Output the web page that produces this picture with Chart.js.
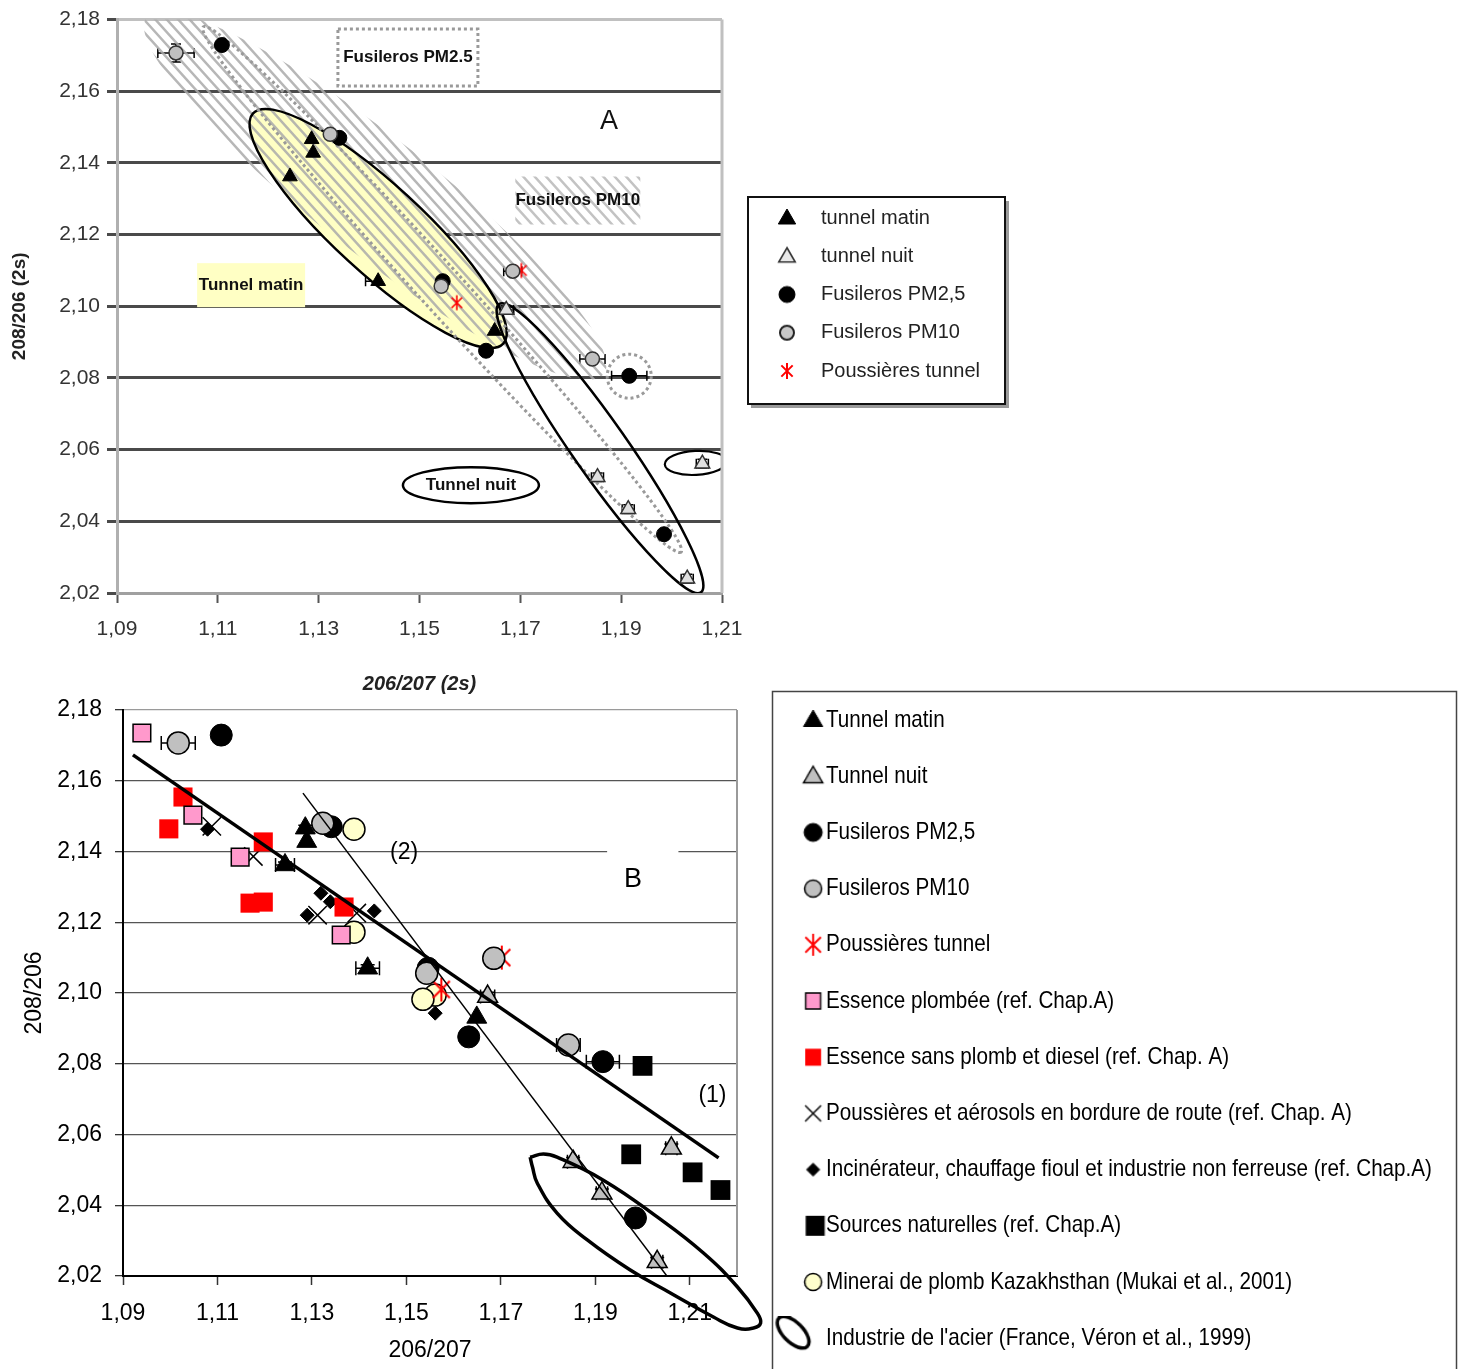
<!DOCTYPE html>
<html><head><meta charset="utf-8">
<script src="https://cdn.jsdelivr.net/npm/chart.js@4.4.1/dist/chart.umd.min.js"></script>
<style>
html,body{margin:0;padding:0;background:#fff;overflow:hidden;width:1460px;height:1369px;}
#ca{position:absolute;left:0;top:0;}
#cb{position:absolute;left:0;top:640px;}
</style></head><body>
<canvas id="ca" width="1460" height="700"></canvas>
<canvas id="cb" width="1460" height="729"></canvas>
<script>
// ================= DATA =================
const xTicksA = [1.09, 1.11, 1.13, 1.15, 1.17, 1.19, 1.21];
const xTicksB = [1.09, 1.11, 1.13, 1.15, 1.17, 1.19, 1.21];
const yTicks  = [2.02, 2.04, 2.06, 2.08, 2.10, 2.12, 2.14, 2.16, 2.18];

const tunnelMatinX = [1.1286, 1.1289, 1.1243, 1.1418, 1.1649];
const tunnelMatinY = [2.1466, 2.1428, 2.1362, 2.1070, 2.0931];
const tunnelMatinErrX = [0, 0, 0.0020, 0.0025, 0];
const tunnelMatinErrY = [0.0008, 0, 0.0008, 0.0010, 0];

const tunnelNuitX = [1.1672, 1.1853, 1.1914, 1.2031, 1.2061];
const tunnelNuitY = [2.0990, 2.0523, 2.0434, 2.0240, 2.0561];
const tunnelNuitErrX = [0.0015, 0.0012, 0.0012, 0.0012, 0.0012];
const tunnelNuitErrY = [0.0012, 0.0012, 0.0012, 0.0012, 0.0012];

const pm25X = [1.1108, 1.1341, 1.1546, 1.1632, 1.1916, 1.1985];
const pm25Y = [2.1729, 2.1470, 2.1070, 2.0876, 2.0806, 2.0364];
const pm25ErrX = [0, 0, 0, 0, 0.0035, 0];
const pm25ErrY = [0, 0, 0, 0, 0, 0];

const pm10X = [1.1017, 1.1323, 1.1543, 1.1685, 1.1843];
const pm10Y = [2.1707, 2.1480, 2.1056, 2.1098, 2.0853];
const pm10ErrX = [0.0036, 0, 0, 0.0018, 0.0025];
const pm10ErrY = [0.0025, 0, 0, 0, 0];

const poussTunnelX = [1.1702, 1.1574];
const poussTunnelY = [2.1100, 2.1010];

const essPlombX = [1.0940, 1.1048, 1.1148, 1.1362];
const essPlombY = [2.1735, 2.1503, 2.1384, 2.1164];

const essSansX = [1.1027, 1.0997, 1.1197, 1.1169, 1.1197, 1.1368];
const essSansY = [2.1554, 2.1464, 2.1427, 2.1254, 2.1257, 2.1243];

const routeX = [1.1088, 1.1176, 1.1312, 1.1395];
const routeY = [2.1471, 2.1386, 2.1220, 2.1226];

const incinX = [1.1079, 1.1319, 1.1339, 1.1290, 1.1432, 1.1561];
const incinY = [2.1463, 2.1282, 2.1258, 2.1220, 2.1232, 2.0943];

const naturX = [1.2000, 1.1976, 1.2106, 1.2165];
const naturY = [2.0794, 2.0544, 2.0493, 2.0443];

const kazX = [1.1389, 1.1389, 1.1561, 1.1535];
const kazY = [2.1463, 2.1172, 2.0994, 2.0982];

// outline of the steel-industry field
const steelX = [1.1762, 1.1790, 1.1819, 1.1917, 1.2031, 1.2129, 1.2201, 1.2243, 1.2250, 1.2235, 1.2201, 1.2150, 1.2059, 1.1974, 1.1883, 1.1819, 1.1777, 1.1767];
const steelY = [2.0536, 2.0545, 2.0536, 2.0471, 2.0367, 2.0265, 2.0169, 2.0095, 2.0067, 2.0053, 2.0053, 2.0084, 2.0152, 2.0217, 2.0302, 2.0378, 2.0463, 2.0508];

const line1X = [1.0921, 1.2161];
const line1Y = [2.1673, 2.0534];
const line2X = [1.1281, 1.2055];
const line2Y = [2.1565, 2.0194];

const labelsTopLegend = ['tunnel matin', 'tunnel nuit', 'Fusileros PM2,5', 'Fusileros PM10', 'Poussières tunnel'];
const labelsB = ['Tunnel matin', 'Tunnel nuit', 'Fusileros PM2,5', 'Fusileros PM10', 'Poussières tunnel',
  'Essence plombée (ref. Chap.A)', 'Essence sans plomb et diesel (ref. Chap. A)',
  'Poussières et aérosols en bordure de route (ref. Chap. A)',
  'Incinérateur, chauffage fioul et industrie non ferreuse (ref. Chap.A)',
  'Sources naturelles (ref. Chap.A)', 'Minerai de plomb Kazakhsthan (Mukai et al., 2001)',
  "Industrie de l'acier (France, Véron et al., 1999)"];

// ================= STYLE / LAYOUT =================
const FA = "'Liberation Sans', Arial, sans-serif";
Chart.defaults.font.family = FA;
Chart.defaults.color = '#000';
const fmt = v => Number(v).toFixed(2).replace('.', ',');
const pts = (xs, ys) => xs.map((x, i) => ({x: x, y: ys[i]}));

// horizontal condensing factor for legend B (reference uses a narrow face)
const LEG_B_FONT = 24;
const kB = (() => {
  const m = document.createElement('canvas').getContext('2d');
  m.font = LEG_B_FONT + "px 'Liberation Sans'";
  return Math.min(1, 606 / m.measureText(labelsB[8]).width);
})();

function drawMark(g, style, x, y, r, fill, stroke, lw) {
  g.save(); g.beginPath();
  let closed = true; const s = r * Math.SQRT1_2;
  switch (style) {
    case 'circle': g.arc(x, y, r, 0, Math.PI * 2); break;
    case 'triangle': g.moveTo(x, y - r); g.lineTo(x + r * 0.866, y + r * 0.5); g.lineTo(x - r * 0.866, y + r * 0.5); g.closePath(); break;
    case 'rectRot': g.moveTo(x - r, y); g.lineTo(x, y - r); g.lineTo(x + r, y); g.lineTo(x, y + r); g.closePath(); break;
    case 'crossRot': closed = false; g.moveTo(x - s, y - s); g.lineTo(x + s, y + s); g.moveTo(x + s, y - s); g.lineTo(x - s, y + s); break;
    case 'asterisk': closed = false; g.moveTo(x - s, y - s); g.lineTo(x + s, y + s); g.moveTo(x + s, y - s); g.lineTo(x - s, y + s); g.moveTo(x, y - r); g.lineTo(x, y + r); break;
  }
  if (closed && fill) { g.fillStyle = fill; g.fill(); }
  if (stroke && lw > 0) { g.strokeStyle = stroke; g.lineWidth = lw; g.stroke(); }
  g.restore();
}
function drawBox(g, x, y, w, h, fill, stroke, lw) {
  g.save(); g.fillStyle = fill; g.fillRect(x - w / 2, y - h / 2, w, h);
  if (stroke) { g.strokeStyle = stroke; g.lineWidth = lw; g.strokeRect(x - w / 2, y - h / 2, w, h); }
  g.restore();
}
function img(w, h, fn) { const c = document.createElement('canvas'); c.width = w; c.height = h; fn(c.getContext('2d')); return c; }
function widen(src, k) { const c = document.createElement('canvas'); c.width = Math.round(src.width / k); c.height = src.height; c.getContext('2d').drawImage(src, 0, 0, c.width, c.height); return c; }

// point images
const astA = img(20, 20, g => drawMark(g, 'asterisk', 10, 10, 7.5, null, '#ff0000', 1.6));
const astB = img(30, 30, g => drawMark(g, 'asterisk', 15, 15, 12, null, '#ff0000', 2));

// legend images chart A (symbol left inside a 60px image)
const legA = [
  img(60, 24, g => drawMark(g, 'triangle', 16, 13, 10, '#000', '#000', 1)),
  img(60, 24, g => drawMark(g, 'triangle', 16, 13, 9.5, '#e8e8e8', '#333', 1.6)),
  img(60, 24, g => drawMark(g, 'circle', 16, 12, 8, '#000', '#000', 1)),
  img(60, 24, g => drawMark(g, 'circle', 16, 12, 7, '#c8c8c8', '#222', 2)),
  img(60, 24, g => drawMark(g, 'asterisk', 16, 12, 8, null, '#ff0000', 2))
];
// legend images chart B
const legB = [
  img(30, 30, g => drawMark(g, 'triangle', 15, 16, 11, '#000', '#000', 1)),
  img(30, 30, g => drawMark(g, 'triangle', 15, 16, 11, '#c0c0c0', '#000', 1.5)),
  img(30, 30, g => drawMark(g, 'circle', 15, 15, 9, '#000', '#000', 1)),
  img(30, 30, g => drawMark(g, 'circle', 15, 15, 8.5, '#c0c0c0', '#000', 1.5)),
  img(30, 30, g => drawMark(g, 'asterisk', 15, 15, 11, null, '#ff0000', 2)),
  img(30, 30, g => drawBox(g, 15, 15, 15, 16, '#ff99cc', '#000', 1.5)),
  img(30, 30, g => drawBox(g, 15, 15, 16, 17, '#ff0000')),
  img(30, 30, g => drawMark(g, 'crossRot', 15, 15, 11.3, null, '#000', 1.5)),
  img(30, 30, g => drawMark(g, 'rectRot', 15, 15, 6.5, '#000', '#000', 1)),
  img(30, 30, g => drawBox(g, 17, 15, 19, 20, '#000')),
  img(30, 30, g => drawMark(g, 'circle', 15, 15, 8.5, '#ffffcc', '#000', 1.5)),
  img(80, 44, g => { g.beginPath(); g.ellipse(20, 16, 20, 10, 45 * Math.PI / 180, 0, Math.PI * 2); g.lineWidth = 3.5; g.strokeStyle = '#000'; g.stroke(); })
].map(c => widen(c, kB));

// ================= PLUGINS =================
const errorBars = {
  id: 'errorBars',
  beforeDatasetsDraw(chart, args, opts) {
    const {ctx, scales: {x, y}} = chart;
    const cap = opts.cap || 6;
    ctx.save(); ctx.strokeStyle = '#000'; ctx.lineWidth = opts.lw || 1.5;
    chart.data.datasets.forEach(ds => {
      if (!ds.errX && !ds.errY) return;
      ds.data.forEach((p, i) => {
        const px = x.getPixelForValue(p.x), py = y.getPixelForValue(p.y);
        const ex = ds.errX ? ds.errX[i] : 0, ey = ds.errY ? ds.errY[i] : 0;
        ctx.beginPath();
        if (ex > 0) {
          const l = x.getPixelForValue(p.x - ex), r = x.getPixelForValue(p.x + ex);
          ctx.moveTo(l, py); ctx.lineTo(r, py);
          ctx.moveTo(l, py - cap); ctx.lineTo(l, py + cap); ctx.moveTo(r, py - cap); ctx.lineTo(r, py + cap);
        }
        if (ey > 0) {
          const t = y.getPixelForValue(p.y + ey), b = y.getPixelForValue(p.y - ey);
          ctx.moveTo(px, t); ctx.lineTo(px, b);
          ctx.moveTo(px - cap, t); ctx.lineTo(px + cap, t); ctx.moveTo(px - cap, b); ctx.lineTo(px + cap, b);
        }
        ctx.stroke();
      });
    });
    ctx.restore();
  }
};

function legendPlacer(id, width, left, top, sx, anchor) {
  return {
    id: id,
    beforeLayout(chart) {
      const lg = chart.legend;
      if (lg && !lg._wrapped) {
        const orig = lg.fit;
        lg.fit = function () { const mh = this.maxHeight; this.maxHeight = 5000; orig.call(this); this.maxHeight = mh; this.width = width; this.height = mh; };
        if (sx && sx !== 1) {
          const od = lg.draw;
          lg.draw = function (a) {
            const c = this.ctx; c.save(); c.translate(anchor, 0); c.scale(sx, 1); c.translate(-anchor, 0);
            if (typeof this._draw === 'function' && this.options.display) { this._draw(); } else { od.call(this, a); }
            c.restore();
          };
        }
        lg._wrapped = true;
      }
    },
    afterLayout(chart) {
      const lg = chart.legend;
      lg.left = left; lg.right = left + 2000; lg.top = top; lg.bottom = top + 5000;
    }
  };
}

// ---------- chart A annotations (data-anchored) ----------
const annoA = {
  hatchBand: {x: 1.1412, y: 2.1309, a: 290, b: 58, rot: 38},
  yellowEll: {x: 1.1418, y: 2.1217, a: 170, b: 44, rot: 42.6},
  nightEll: {x: 1.1858, y: 2.0604, a: 176, b: 27, rot: 55},
  smallEll: {x: 1.2048, y: 2.0563, a: 31, b: 12, rot: -3},
  dotLoop: {x: 1.1545, y: 2.1047, a: 355, b: 22, rot: 47.7},
  dotCircle: {x: 1.1916, y: 2.0805, r: 22}
};
const textA = [
  {text: 'Fusileros PM2.5', x: 1.1477, y: 2.1694, w: 140, h: 57, box: 'dotted'},
  {text: 'Fusileros PM10', x: 1.1814, y: 2.1295, w: 125, h: 48, box: 'hatch'},
  {text: 'Tunnel matin', x: 1.1166, y: 2.1059, w: 108, h: 44, box: 'yellow'},
  {text: 'Tunnel nuit', x: 1.1602, y: 2.0501, w: 136, h: 36, box: 'ellipse'},
  {text: 'A', x: 1.1876, y: 2.1516, box: 'none'}
];

function hatch(ctx, cx, cy, R, angDeg, spacing) {
  const th = angDeg * Math.PI / 180, dx = Math.cos(th), dy = Math.sin(th);
  ctx.beginPath();
  for (let k = -R; k <= R; k += spacing) {
    const ox = cx - dy * k, oy = cy + dx * k;
    ctx.moveTo(ox - dx * R, oy - dy * R); ctx.lineTo(ox + dx * R, oy + dy * R);
  }
  ctx.stroke();
}
function ellPath(ctx, cx, cy, e) { ctx.beginPath(); ctx.ellipse(cx, cy, e.a, e.b, e.rot * Math.PI / 180, 0, Math.PI * 2); }

const aDecor = {
  id: 'aDecor',
  beforeDatasetsDraw(chart) {
    const {ctx, chartArea: ca, scales: {x, y}} = chart;
    const P = o => [x.getPixelForValue(o.x), y.getPixelForValue(o.y)];
    ctx.save();
    ctx.beginPath(); ctx.rect(ca.left, ca.top, ca.right - ca.left, ca.bottom - ca.top); ctx.clip();
    let [cx, cy] = P(annoA.yellowEll);
    ellPath(ctx, cx, cy, annoA.yellowEll); ctx.fillStyle = '#ffffc4'; ctx.fill();
    const hb = annoA.hatchBand; const [hx, hy] = P(hb);
    ctx.save(); ellPath(ctx, hx, hy, hb); ctx.clip();
    ctx.strokeStyle = 'rgba(170,170,170,0.85)'; ctx.lineWidth = 2.5; hatch(ctx, hx, hy, 320, 48, 8.5);
    ctx.restore();
    ellPath(ctx, cx, cy, annoA.yellowEll); ctx.strokeStyle = '#000'; ctx.lineWidth = 2.5; ctx.stroke();
    const dl = annoA.dotLoop; const [lx, ly] = P(dl);
    ctx.setLineDash([3, 3]); ctx.strokeStyle = '#9a9a9a'; ctx.lineWidth = 3;
    ellPath(ctx, lx, ly, dl); ctx.stroke();
    const dc = annoA.dotCircle; const [dcx, dcy] = P(dc);
    ctx.beginPath(); ctx.arc(dcx, dcy, dc.r, 0, Math.PI * 2); ctx.stroke();
    ctx.setLineDash([]);
    const ne = annoA.nightEll; const [nx, ny] = P(ne);
    ellPath(ctx, nx, ny, ne); ctx.strokeStyle = '#000'; ctx.lineWidth = 2.5; ctx.stroke();
    const se = annoA.smallEll; const [sx, sy] = P(se);
    ellPath(ctx, sx, sy, se); ctx.lineWidth = 2.2; ctx.stroke();
    textA.forEach(t => {
      const [tx, ty] = P(t);
      if (t.box === 'dotted') {
        ctx.fillStyle = '#fff'; ctx.fillRect(tx - t.w / 2, ty - t.h / 2, t.w, t.h);
        ctx.setLineDash([3, 3]); ctx.strokeStyle = '#9a9a9a'; ctx.lineWidth = 3;
        ctx.strokeRect(tx - t.w / 2, ty - t.h / 2, t.w, t.h); ctx.setLineDash([]);
      } else if (t.box === 'hatch') {
        ctx.save(); ctx.beginPath(); ctx.rect(tx - t.w / 2, ty - t.h / 2, t.w, t.h); ctx.clip();
        ctx.fillStyle = '#fff'; ctx.fillRect(tx - t.w / 2, ty - t.h / 2, t.w, t.h);
        ctx.strokeStyle = 'rgba(170,170,170,0.7)'; ctx.lineWidth = 2.5; hatch(ctx, tx, ty, 120, 48, 8.5);
        ctx.restore();
      } else if (t.box === 'yellow') {
        ctx.fillStyle = '#ffffc4'; ctx.fillRect(tx - t.w / 2, ty - t.h / 2, t.w, t.h);
      } else if (t.box === 'ellipse') {
        ctx.beginPath(); ctx.ellipse(tx, ty, t.w / 2, t.h / 2, 0, 0, Math.PI * 2);
        ctx.fillStyle = '#fff'; ctx.fill(); ctx.strokeStyle = '#000'; ctx.lineWidth = 2.5; ctx.stroke();
      }
      ctx.fillStyle = '#111'; ctx.textAlign = 'center'; ctx.textBaseline = 'middle';
      ctx.font = t.box === 'none' ? "27px " + FA : "bold 17px " + FA;
      ctx.fillText(t.text, tx, ty);
    });
    ctx.restore();
    ctx.save(); ctx.strokeStyle = '#c0c0c0'; ctx.lineWidth = 3;
    ctx.beginPath(); ctx.moveTo(ca.right, ca.top); ctx.lineTo(ca.right, ca.bottom); ctx.stroke(); ctx.restore();
  },
  afterDraw(chart) {
    const ctx = chart.ctx;
    ctx.save();
    ctx.strokeStyle = '#9a9a9a'; ctx.lineWidth = 3;
    ctx.beginPath(); ctx.moveTo(1007.5, 201); ctx.lineTo(1007.5, 406.5); ctx.lineTo(751, 406.5); ctx.stroke();
    ctx.strokeStyle = '#111'; ctx.lineWidth = 2; ctx.strokeRect(748, 197, 257, 207);
    ctx.restore();
  }
};

// ---------- chart B decorations ----------
const textB = [
  {text: '(1)', x: 1.2148, y: 2.0709, size: 23},
  {text: '(2)', x: 1.1495, y: 2.1396, size: 23},
  {text: 'B', x: 1.1980, y: 2.1320, size: 27, blank: {x0: 1.1925, x1: 1.2076, y0: 2.1402, y1: 2.1235}}
];
const bDecor = {
  id: 'bDecor',
  beforeDatasetsDraw(chart) {
    const {ctx, chartArea: ca, scales: {x, y}} = chart;
    ctx.save();
    ctx.strokeStyle = '#9a9a9a'; ctx.lineWidth = 2;
    ctx.beginPath(); ctx.moveTo(ca.right, ca.top); ctx.lineTo(ca.right, ca.bottom); ctx.stroke();
    textB.forEach(t => {
      if (t.blank) {
        const x0 = x.getPixelForValue(t.blank.x0), x1 = x.getPixelForValue(t.blank.x1);
        const y0 = y.getPixelForValue(t.blank.y0), y1 = y.getPixelForValue(t.blank.y1);
        ctx.fillStyle = '#fff'; ctx.fillRect(x0, y0, x1 - x0, y1 - y0);
      }
      ctx.fillStyle = '#000'; ctx.textAlign = 'center'; ctx.textBaseline = 'middle';
      ctx.font = t.size + 'px ' + FA;
      ctx.fillText(t.text, x.getPixelForValue(t.x), y.getPixelForValue(t.y));
    });
    ctx.restore();
  },
  afterDraw(chart) {
    const ctx = chart.ctx;
    ctx.save(); ctx.strokeStyle = '#444'; ctx.lineWidth = 1.5;
    ctx.strokeRect(772.5, 51.5, 684, 760);
    ctx.restore();
  }
};

// ================= CHART A =================
const dsA = [
  {label: labelsTopLegend[0], data: pts(tunnelMatinX, tunnelMatinY), errX: tunnelMatinErrX, errY: tunnelMatinErrY,
   pointStyle: 'triangle', pointRadius: 8.5, pointBackgroundColor: '#000', pointBorderColor: '#000', pointBorderWidth: 1},
  {label: labelsTopLegend[1], data: pts(tunnelNuitX, tunnelNuitY), errX: tunnelNuitErrX, errY: tunnelNuitErrY,
   pointStyle: 'triangle', pointRadius: 8.5, pointBackgroundColor: '#e0e0e0', pointBorderColor: '#333', pointBorderWidth: 1.5},
  {label: labelsTopLegend[2], data: pts(pm25X, pm25Y), errX: pm25ErrX, errY: pm25ErrY, order: 1,
   pointStyle: 'circle', pointRadius: 7.5, pointBackgroundColor: '#000', pointBorderColor: '#000', pointBorderWidth: 1},
  {label: labelsTopLegend[3], data: pts(pm10X, pm10Y), errX: pm10ErrX, errY: pm10ErrY,
   pointStyle: 'circle', pointRadius: 7, pointBackgroundColor: '#c0c0c0', pointBorderColor: '#333', pointBorderWidth: 1.5},
  {label: labelsTopLegend[4], data: pts(poussTunnelX, poussTunnelY),
   pointStyle: astA, pointRadius: 7, pointBackgroundColor: '#f00', pointBorderColor: '#f00'}
];

new Chart(document.getElementById('ca'), {
  type: 'scatter',
  data: {datasets: dsA},
  options: {
    responsive: false, animation: false, events: [],
    layout: {padding: {top: 19, left: 0, right: 0, bottom: 6}},
    scales: {
      x: {
        type: 'linear', min: 1.09, max: 1.21,
        afterBuildTicks: s => { s.ticks = xTicksA.map(v => ({value: v})); },
        afterFit: s => { s.height = 101; },
        ticks: {callback: fmt, font: {size: 21, family: FA}, color: '#333', padding: 14, maxRotation: 0, autoSkip: false},
        grid: {drawOnChartArea: false, drawTicks: true, tickLength: 10, tickColor: '#555', tickWidth: 2},
        border: {display: true, color: '#a0a0a0', width: 3},
        title: {display: true, text: '206/207 (2s)', font: {size: 20, weight: 'bold', style: 'italic', family: FA, lineHeight: 1}, color: '#222', padding: {top: 0, bottom: 0}}
      },
      y: {
        type: 'linear', min: 2.02, max: 2.18,
        afterBuildTicks: s => { s.ticks = yTicks.map(v => ({value: v})); },
        afterFit: s => { s.width = 117; },
        ticks: {callback: fmt, font: {size: 21, family: FA}, color: '#333', padding: 7},
        grid: {color: c => (c.tick && Math.abs(c.tick.value - 2.18) < 1e-6) ? '#c0c0c0' : '#4a4a4a', lineWidth: 3, tickLength: 10, tickColor: '#4a4a4a', tickWidth: 3},
        border: {display: true, color: '#b0b0b0', width: 3},
        title: {display: true, text: '208/206 (2s)', font: {size: 19, weight: 'bold', family: FA, lineHeight: 1}, color: '#222', padding: {top: 10.5, bottom: 0}}
      }
    },
    plugins: {
      tooltip: {enabled: false},
      errorBars: {cap: 5, lw: 1.5},
      legend: {
        display: true, position: 'right', align: 'start',
        labels: {
          usePointStyle: true, boxWidth: 20, boxHeight: 20, padding: 18.25,
          font: {size: 20, family: FA}, color: '#222',
          generateLabels: chart => chart.data.datasets.map((d, i) => ({
            text: d.label, pointStyle: legA[i], datasetIndex: i, hidden: false,
            fillStyle: 'transparent', strokeStyle: 'transparent', lineWidth: 0, fontColor: '#222'}))
        }
      }
    }
  },
  plugins: [errorBars, aDecor, legendPlacer('legA', 738, 772.75, 189.75)]
});

// ================= CHART B =================
const dsB = [
  {label: labelsB[0], data: pts(tunnelMatinX, tunnelMatinY), errX: tunnelMatinErrX, errY: tunnelMatinErrY,
   pointStyle: 'triangle', pointRadius: 11.5, pointBackgroundColor: '#000', pointBorderColor: '#000', pointBorderWidth: 1},
  {label: labelsB[1], data: pts(tunnelNuitX, tunnelNuitY), errX: tunnelNuitErrX, errY: tunnelNuitErrY,
   pointStyle: 'triangle', pointRadius: 11.5, pointBackgroundColor: '#c0c0c0', pointBorderColor: '#000', pointBorderWidth: 1.5},
  {label: labelsB[2], data: pts(pm25X, pm25Y), errX: pm25ErrX, errY: pm25ErrY, order: 1,
   pointStyle: 'circle', pointRadius: 11, pointBackgroundColor: '#000', pointBorderColor: '#000', pointBorderWidth: 1},
  {label: labelsB[3], data: pts(pm10X, pm10Y), errX: pm10ErrX, errY: pm10ErrY,
   pointStyle: 'circle', pointRadius: 11, pointBackgroundColor: '#c0c0c0', pointBorderColor: '#000', pointBorderWidth: 1.5},
  {label: labelsB[4], data: pts(poussTunnelX, poussTunnelY),
   pointStyle: astB, pointRadius: 10, pointBackgroundColor: '#f00', pointBorderColor: '#f00'},
  {label: labelsB[5], data: pts(essPlombX, essPlombY),
   pointStyle: 'rect', pointRadius: 12.5, pointBackgroundColor: '#ff99cc', pointBorderColor: '#000', pointBorderWidth: 1.5},
  {label: labelsB[6], data: pts(essSansX, essSansY),
   pointStyle: 'rect', pointRadius: 13.5, pointBackgroundColor: '#ff0000', pointBorderColor: '#ff0000', pointBorderWidth: 0},
  {label: labelsB[7], data: pts(routeX, routeY),
   pointStyle: 'crossRot', pointRadius: 13, pointBackgroundColor: '#000', pointBorderColor: '#000', pointBorderWidth: 1.5},
  {label: labelsB[8], data: pts(incinX, incinY),
   pointStyle: 'rectRot', pointRadius: 7, pointBackgroundColor: '#000', pointBorderColor: '#000', pointBorderWidth: 1},
  {label: labelsB[9], data: pts(naturX, naturY),
   pointStyle: 'rect', pointRadius: 14, pointBackgroundColor: '#000', pointBorderColor: '#000', pointBorderWidth: 0},
  {label: labelsB[10], data: pts(kazX, kazY),
   pointStyle: 'circle', pointRadius: 11, pointBackgroundColor: '#ffffcc', pointBorderColor: '#000', pointBorderWidth: 1.5},
  {label: labelsB[11], data: (p => p.concat([p[0]]))(pts(steelX, steelY)), showLine: true, tension: 0.45, clip: false,
   pointRadius: 0, borderColor: '#000', borderWidth: 3.5, backgroundColor: 'transparent', fill: false, order: -1},
  {label: 'ligne (1)', data: pts(line1X, line1Y), showLine: true, pointRadius: 0, borderColor: '#000', borderWidth: 3.5, order: -2},
  {label: 'ligne (2)', data: pts(line2X, line2Y), showLine: true, pointRadius: 0, borderColor: '#000', borderWidth: 1.5, order: -2}
];

new Chart(document.getElementById('cb'), {
  type: 'scatter',
  data: {datasets: dsB},
  options: {
    responsive: false, animation: false, events: [],
    layout: {padding: {top: 70, left: 0, right: 0, bottom: 7}},
    scales: {
      x: {
        type: 'linear', min: 1.09, max: 1.22,
        afterBuildTicks: s => { s.ticks = xTicksB.map(v => ({value: v})); },
        afterFit: s => { s.height = 86; },
        ticks: {callback: fmt, font: {size: 23, family: FA}, color: '#000', padding: 15, maxRotation: 0, autoSkip: false},
        grid: {drawOnChartArea: false, drawTicks: true, tickLength: 9, tickColor: '#333', tickWidth: 1.5},
        border: {display: true, color: '#000', width: 2},
        title: {display: true, text: '206/207', font: {size: 23, family: FA, lineHeight: 1}, color: '#000', padding: {top: 0, bottom: 0}}
      },
      y: {
        type: 'linear', min: 2.02, max: 2.18,
        afterBuildTicks: s => { s.ticks = yTicks.map(v => ({value: v})); },
        afterFit: s => { s.width = 123; },
        ticks: {callback: fmt, font: {size: 23, family: FA}, color: '#000', padding: 13},
        grid: {color: c => (c.tick && Math.abs(c.tick.value - 2.18) < 1e-6) ? '#9a9a9a' : '#555', lineWidth: 1.3, tickLength: 8, tickColor: '#333', tickWidth: 1.3},
        border: {display: true, color: '#000', width: 2},
        title: {display: true, text: '208/206', font: {size: 23, family: FA, lineHeight: 1}, color: '#000', padding: {top: 23, bottom: 0}}
      }
    },
    plugins: {
      tooltip: {enabled: false},
      errorBars: {cap: 7, lw: 1.5},
      legend: {
        display: true, position: 'right', align: 'start',
        labels: {
          usePointStyle: true, boxWidth: 6, boxHeight: LEG_B_FONT, padding: 32.2,
          font: {size: LEG_B_FONT, family: FA}, color: '#000',
          generateLabels: chart => chart.data.datasets.map((d, i) => ({
            text: d.label, pointStyle: legB[i], datasetIndex: i, hidden: false,
            fillStyle: 'transparent', strokeStyle: 'transparent', lineWidth: 0, fontColor: '#000'})).filter(it => it.pointStyle)
        }
      }
    }
  },
  plugins: [errorBars, bDecor, legendPlacer('legB', 723, 775.8, 35.8, kB, 826)]
});
</script>
</body></html>
